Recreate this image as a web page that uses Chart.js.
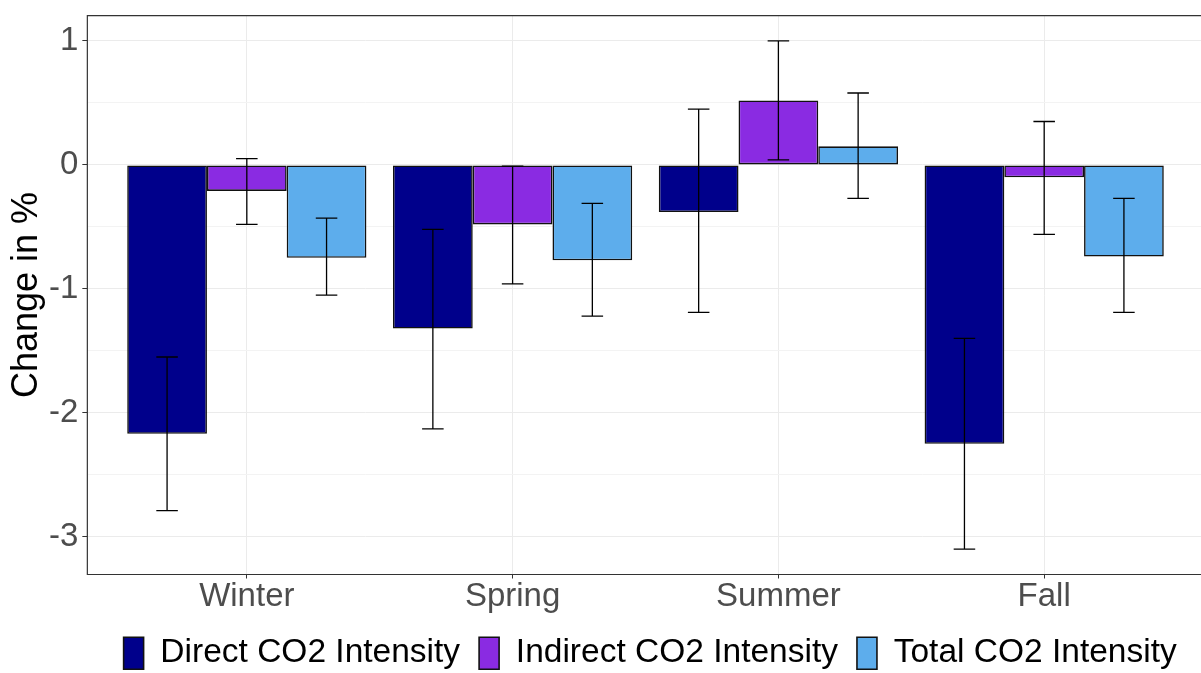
<!DOCTYPE html>
<html>
<head>
<meta charset="utf-8">
<script src="https://cdn.jsdelivr.net/npm/chart.js@4"></script>
<style>
  body { margin: 0; overflow: hidden; background: #fff; }
  #wrap { position: relative; width: 1201px; height: 673px; }
</style>
</head>
<body>
<div id="wrap"><canvas id="myChart"></canvas></div>
<script>
'use strict';

let seasons = ['Winter', 'Spring', 'Summer', 'Fall'];
let seriesNames = ['Direct CO2 Intensity', 'Indirect CO2 Intensity', 'Total CO2 Intensity'];

let direct = [-2.17, -1.32, -0.38, -2.25];
let directLow = [-2.79, -2.13, -1.19, -3.10];
let directHigh = [-1.55, -0.52, 0.45, -1.40];

let indirect = [-0.21, -0.48, 0.52, -0.10];
let indirectLow = [-0.48, -0.96, 0.04, -0.56];
let indirectHigh = [0.05, -0.01, 1.00, 0.35];

let total = [-0.75, -0.77, 0.15, -0.74];
let totalLow = [-1.05, -1.22, -0.27, -1.19];
let totalHigh = [-0.43, -0.31, 0.58, -0.27];

let yTicks = [-3, -2, -1, 0, 1];

let colors = ['#00008B', '#8A2BE2', '#5DADEC'];
let lows = [directLow, indirectLow, totalLow];
let highs = [directHigh, indirectHigh, totalHigh];

const FONT = '"Liberation Sans", Arial, sans-serif';

function toPoints(values) {
  return values.map((v, i) => ({ x: i + 1, y: v }));
}

// error bars, drawn on top of the bars
const errorBars = {
  id: 'errorBars',
  afterDatasetsDraw(chart) {
    const ctx = chart.ctx;
    const yScale = chart.scales.y;
    ctx.save();
    ctx.strokeStyle = '#000';
    ctx.lineWidth = 1.3;
    for (let d = 0; d < chart.data.datasets.length; d++) {
      const meta = chart.getDatasetMeta(d);
      meta.data.forEach((bar, i) => {
        const x = bar.x;
        const half = bar.width * 0.135;
        const yLo = yScale.getPixelForValue(lows[d][i]);
        const yHi = yScale.getPixelForValue(highs[d][i]);
        ctx.beginPath();
        ctx.moveTo(x, yLo); ctx.lineTo(x, yHi);
        ctx.moveTo(x - half, yLo); ctx.lineTo(x + half, yLo);
        ctx.moveTo(x - half, yHi); ctx.lineTo(x + half, yHi);
        ctx.stroke();
      });
    }
    ctx.restore();
  }
};

// panel border (right side falls off the picture, like the original)
const frame = {
  id: 'frame',
  afterLayout(chart) {
    // centre the legend under the panel rather than the canvas
    if (chart.legend) {
      chart.legend.left += 6;
      chart.legend.right += 6;
    }
  },
  afterDraw(chart) {
    const a = chart.chartArea;
    const ctx = chart.ctx;
    ctx.save();
    ctx.strokeStyle = '#333';
    ctx.lineWidth = 1.2;
    ctx.beginPath();
    ctx.moveTo(a.right + 2, a.top);
    ctx.lineTo(a.left, a.top);
    ctx.lineTo(a.left, a.bottom);
    ctx.lineTo(a.right + 2, a.bottom);
    ctx.stroke();
    ctx.restore();
  }
};

let datasets = [direct, indirect, total].map((vals, i) => ({
  label: seriesNames[i],
  data: toPoints(vals),
  backgroundColor: colors[i],
  borderColor: '#111',
  borderWidth: 1.6,
  borderSkipped: false,
  categoryPercentage: 0.9,
  barPercentage: 1.0
}));

let ctx = document.getElementById('myChart').getContext('2d');
let myChart = new Chart(ctx, {
  type: 'bar',
  data: { datasets: datasets },
  plugins: [errorBars, frame],
  options: {
    responsive: true,
    maintainAspectRatio: false,
    animation: false,
    layout: { padding: { left: 0, top: 0, right: 0, bottom: -7 } },
    plugins: {
      tooltip: { enabled: false },
      legend: {
        position: 'bottom',
        fullSize: false,
        title: { display: true, text: '', padding: 0, font: { size: 2, lineHeight: 1 } },
        labels: {
          color: '#000',
          font: { size: 33.5, lineHeight: 1, family: FONT },
          boxWidth: 20,
          boxHeight: 32,
          padding: 19
        }
      }
    },
    scales: {
      x: {
        type: 'linear',
        min: 0.4,
        max: 4.59,
        offset: false,
        grid: {
          offset: false,
          color: '#ebebeb',
          lineWidth: 1,
          drawTicks: true,
          tickLength: 4,
          tickColor: '#333'
        },
        border: { display: false },
        ticks: {
          stepSize: 1,
          includeBounds: false,
          color: '#4D4D4D',
          padding: 2,
          maxRotation: 0,
          autoSkip: false,
          font: { size: 33, lineHeight: 1, family: FONT },
          callback: (v) => seasons[v - 1] || ''
        }
      },
      y: {
        min: -3.305,
        max: 1.205,
        grid: {
          color: (c) => yTicks.includes(c.tick.value) ? '#ebebeb' : '#f3f3f3',
          lineWidth: 1,
          drawTicks: true,
          tickLength: 5,
          tickColor: (c) => yTicks.includes(c.tick.value) ? '#333' : 'rgba(0,0,0,0)'
        },
        border: { display: false },
        ticks: {
          stepSize: 0.5,
          includeBounds: false,
          color: '#4D4D4D',
          padding: 4,
          autoSkip: false,
          font: { size: 33, lineHeight: 0.7, family: FONT },
          callback: (v) => yTicks.includes(v) ? String(v) : ''
        },
        title: {
          display: true,
          text: 'Change in %',
          color: '#000',
          padding: { top: 9, bottom: 0 },
          font: { size: 36, lineHeight: 1, family: FONT }
        }
      }
    }
  }
});
</script>
</body>
</html>
